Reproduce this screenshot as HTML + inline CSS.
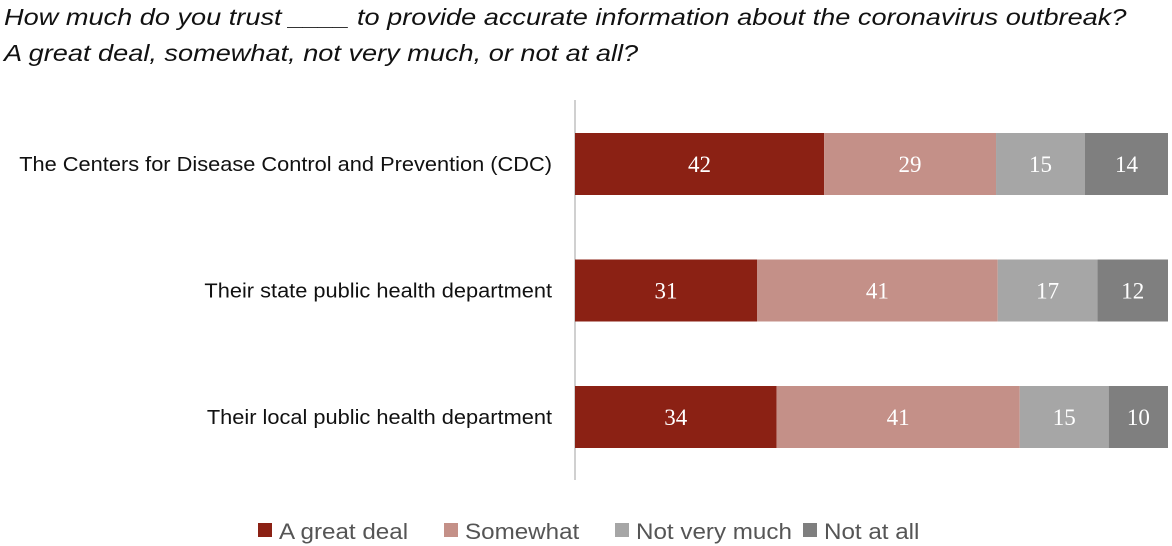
<!DOCTYPE html>
<html><head><meta charset="utf-8"><style>
body{margin:0;width:1172px;height:546px;background:#fff;overflow:hidden;font-family:"Liberation Sans",sans-serif;}
.t{position:absolute;left:4px;font-style:italic;font-size:23px;color:#111;transform-origin:0 0;transform:scaleX(1.18);white-space:nowrap;}
</style></head><body>
<div class="t" style="top:4px">How much do you trust ____ to provide accurate information about the coronavirus outbreak?</div>
<div class="t" style="top:40px">A great deal, somewhat, not very much, or not at all?</div>
<svg id="c" width="1172" height="546" style="position:absolute;left:0;top:0"></svg>
<script>
const categories=["The Centers for Disease Control and Prevention (CDC)","Their state public health department","Their local public health department"];
const seriesNames=["A great deal","Somewhat","Not very much","Not at all"];
const greatDeal=[42,31,34];
const somewhat=[29,41,41];
const notVeryMuch=[15,17,15];
const notAtAll=[14,12,10];
const colors=["#8B2114","#C49088","#A6A6A6","#7F7F7F"];
const series=[greatDeal,somewhat,notVeryMuch,notAtAll];
const NS="http://www.w3.org/2000/svg";
const svg=document.getElementById('c');
const x0=575,fullW=593;
const rowY=i=>133+i*126.5;
const bh=62;
function mk(t,a,txt){const e=document.createElementNS(NS,t);for(const k in a)e.setAttribute(k,a[k]);if(txt!=null)e.textContent=txt;svg.appendChild(e);return e;}
const ax=mk('line',{x1:x0,x2:x0,y1:100,y2:480,stroke:'#d0d0d0','stroke-width':2});


categories.forEach((c,i)=>{
  const y=rowY(i);
  const l=mk('text',{x:0,y:0,'text-anchor':'end','font-size':20,fill:'#111',transform:`translate(552,${y+bh/2+7}) scale(1.09,1)`},c);
  
  
  const total=series.reduce((a,s)=>a+s[i],0);
  const sc=fullW/total;
  const xs=v=>x0+v*sc;
  let cum=0;
  series.forEach((s,j)=>{
    const v=s[i];
    const r=mk('rect',{x:xs(cum),y:y,width:v*sc,height:bh,fill:colors[j]});
    
    
    const tx=mk('text',{x:xs(cum+v/2),y:y+bh/2+8,'text-anchor':'middle','font-size':23,fill:'#fff','font-family':'Liberation Serif, serif'},String(v));
    
    
    cum+=v;
  });
});
const legX=[258,444,615,803];
seriesNames.forEach((n,j)=>{
  const r=mk('rect',{x:legX[j],y:523,width:14,height:14,fill:colors[j]});
  
  
  const t=mk('text',{x:0,y:0,'font-size':22,fill:'#555',transform:`translate(${legX[j]+21},539) scale(1.1,1)`},n);
  
  
});
</script>
</body></html>
